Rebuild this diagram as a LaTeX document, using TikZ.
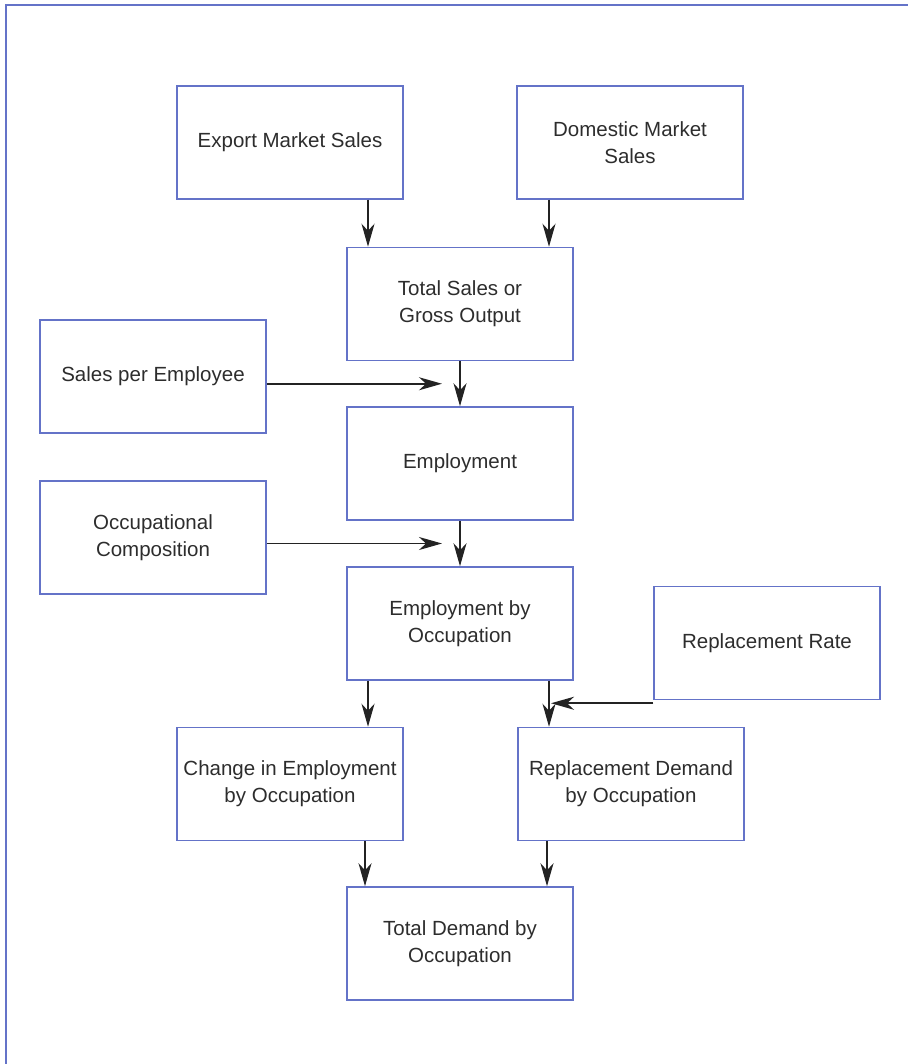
\documentclass[tikz,border=0pt]{standalone}
\usepackage{fontspec}
\setmainfont{Liberation Sans}
\usetikzlibrary{arrows.meta,calc}
\definecolor{boxblue}{RGB}{100,115,200}
\definecolor{txt}{RGB}{45,45,45}
\definecolor{arrowc}{RGB}{35,35,35}
\tikzset{
  blk/.style={draw=boxblue, line width=1.5pt, minimum width=226pt, minimum height=113pt,
    inner sep=0pt, align=center, text=txt, font=\fontsize{20.5pt}{26.7pt}\selectfont},
  arr/.style={draw=arrowc, line width=1.6pt, -{Stealth[length=23pt,width=13pt,inset=7pt]}},
  frame/.style={draw=boxblue, line width=1.8pt}
}
\begin{document}
\begin{tikzpicture}[x=1pt,y=-1pt]
\useasboundingbox (0,0) rectangle (908,1064);
\coordinate (fA) at (6,1064);
\coordinate (fB) at (6,5);
\coordinate (fC) at (908,5);
\draw[frame] (fA) -- (fB) -- (fC);

\node[blk] (exp) at (290,142.5) {Export Market Sales};
\node[blk] (dom) at (630,142.5) {Domestic Market\\Sales};
\node[blk] (tot) at (460,304) {Total Sales or\\Gross Output};
\node[blk] (spe) at (153,376.5) {Sales per Employee};
\node[blk] (emp) at (460,463.5) {Employment};
\node[blk] (occ) at (153,537.5) {Occupational\\Composition};
\node[blk] (ebo) at (460,623.5) {Employment by\\Occupation};
\node[blk] (rr) at (767,643) {Replacement Rate};
\node[blk] (chg) at (290,784) {Change in Employment\\by Occupation};
\node[blk] (rep) at (631,784) {Replacement Demand\\by Occupation};
\node[blk] (tdo) at (460,943.5) {Total Demand by\\Occupation};

\draw[arr] ([xshift=78pt]exp.south) -- ([xshift=78pt]exp.south |- tot.north);
\draw[arr] ([xshift=-81pt]dom.south) -- ([xshift=-81pt]dom.south |- tot.north);
\draw[arr] (tot.south) -- (emp.north);
\coordinate (j1) at ($(tot.south)!0.5!(emp.north)$);
\draw[arr] (spe.east |- j1) -- ([xshift=-18pt]j1);
\draw[arr] (emp.south) -- (ebo.north);
\coordinate (j2) at ($(emp.south)!0.5!(ebo.north)$);
\draw[arr] (occ.east |- j2) -- ([xshift=-18pt]j2);
\draw[arr] ([xshift=-92pt]ebo.south) -- ([xshift=-92pt]ebo.south |- chg.north);
\coordinate (j3) at ([xshift=89pt]ebo.south);
\draw[arr] (j3) -- (j3 |- rep.north);
\draw[arr] ([yshift=-3pt]rr.south west) -- ([xshift=2pt,yshift=-3pt]j3 |- rr.south);
\draw[arr] ([xshift=75pt]chg.south) -- ([xshift=75pt]chg.south |- tdo.north);
\draw[arr] ([xshift=-84pt]rep.south) -- ([xshift=-84pt]rep.south |- tdo.north);
\end{tikzpicture}
\end{document}
